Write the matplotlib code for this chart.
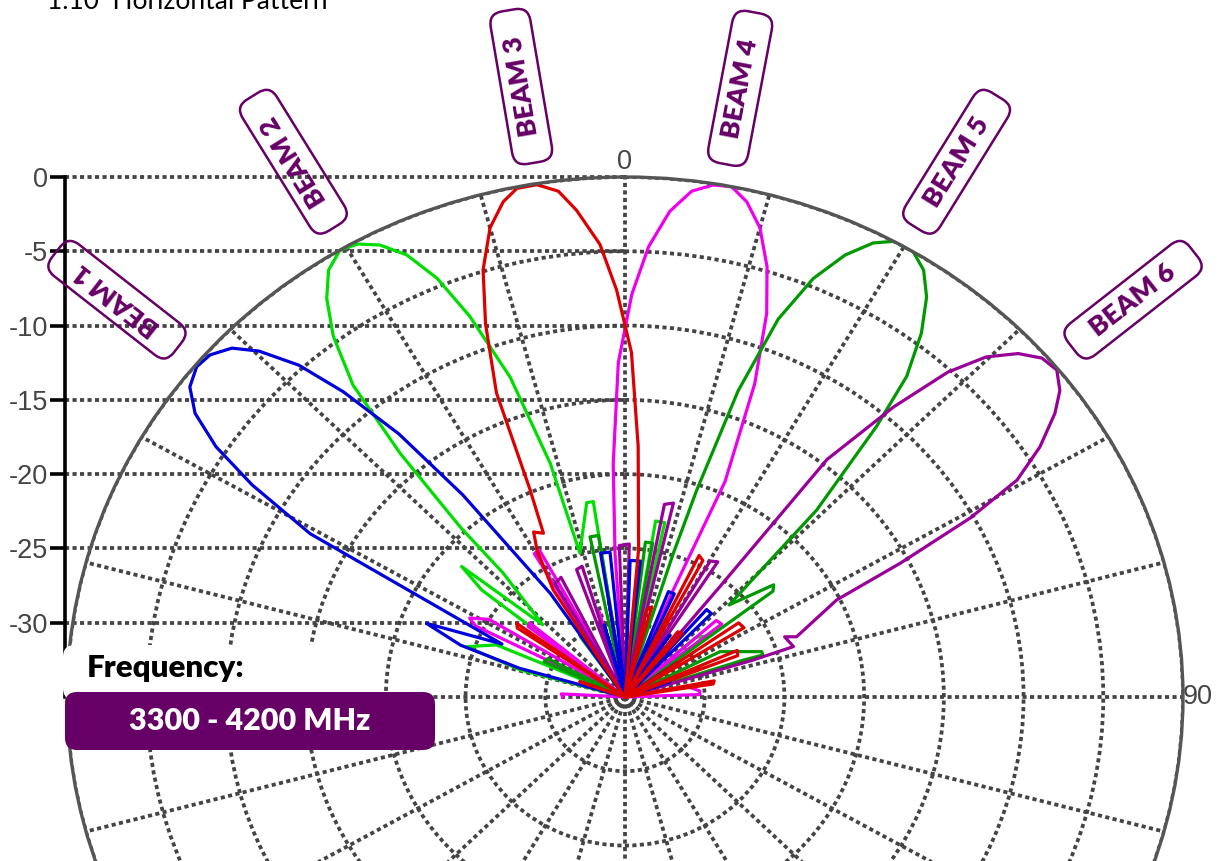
import numpy as np
import matplotlib
matplotlib.use('Agg')
import matplotlib.pyplot as plt
from matplotlib.patches import FancyBboxPatch

plt.rcParams['axes.unicode_minus'] = False

# --- data: angle (deg, clockwise from boresight) and gain (dB) per beam ---
BEAM1_DEG = [-90, -76, -73.7, -71.3, -68.3, -65.2, -60.9, -58.6, -56.7, -54.7, -52.6, -50.4, -48.5,
             -46.4, -44.6, -42.5, -40.7, -38.7, -36.8, -33.9, -31, -22, -15, -12, -9, -5.5, -3,
             2, 6, 9, 15, 18, 21, 24, 28, 34, 38, 41, 44, 48, 55, 60, 70, 80, 90]
BEAM1_DB = [-35, -35, -28.1, -24.1, -21.6, -26.5, -12.4, -7.6, -4.3, -1.96, -0.64, -0.13, -0.25,
            -0.95, -2.3, -4.7, -7.9, -12.3, -18.0, -26.6, -35, -35, -30, -35, -25.2, -25.2, -35,
            -25.8, -25.8, -35, -31, -35, -27.4, -27.4, -35, -30, -35, -27.2, -27.2, -35, -31, -35, -32, -35, -35]

BEAM2_DEG = [-90, -80, -74.5, -71.2, -66.5, -62, -56, -51.3, -49.4, -46.7, -42.5, -42.1, -40.7,
             -39.1, -37.0, -34.9, -32.9, -30.7, -28.75, -26.8, -24.7, -22.7, -20.8, -18.5, -16.6,
             -16.3, -10.4, -8.6, -5, 4, 9.2, 12, 16, 25, 30, 35, 45, 48, 51, 55, 90]
BEAM2_DB = [-35, -35, -28.2, -24.5, -26.2, -35, -35, -23.5, -21.5, -27.9, -23.7, -19.6, -13.4,
            -7.95, -4.6, -2.3, -0.77, 0, -0.22, -0.92, -2.25, -4.45, -7.6, -12.3, -18.6,
            -24.9, -21.7, -21.7, -35, -35, -23, -23, -35, -35, -30, -35, -35, -29, -28.5, -35, -35]

BEAM3_DEG = [-90, -75, -70, -66, -58, -55.5, -53.9, -50, -36, -32, -29.2, -27.3, -24.9, -23.1,
             -21.5, -19.2, -17.2, -15.0, -12.9, -11.2, -9.1, -7.0, -5.3, -2.95, -1.1, 1.0, 2.8,
             4.9, 8, 13, 15.5, 18, 22, 26, 28, 31, 37, 40, 44, 55, 58, 62, 66, 68.5, 72, 79, 81, 85, 90]
BEAM3_DB = [-35, -35, -32, -35, -35, -26.8, -26.6, -35, -35, -26.5, -23.7, -22.5, -22.85, -19.8,
            -13.0, -8.4, -4.9, -2.3, -0.8, -0.1, -0.08, -0.7, -2.1, -4.5, -7.6, -11.8, -18.1,
            -25.0, -35, -29, -28.7, -35, -35, -24.4, -24.6, -35, -29.5, -29.4, -35, -26.3, -26.2,
            -35, -27.3, -27.4, -35, -29.3, -29.4, -35, -35]

BEAM4_DEG = [-90, -87, -84, -66, -63, -61.4, -58.5, -56, -52, -50.2, -47, -33, -30.5, -28.5, -25,
             -19, -16, -13, -8, -3.7, -2.7, -1.07, 0.9, 2.8, 4.9, 7.0, 9.1, 11.0, 12.9, 15.0, 17.1,
             19.0, 21.1, 23.4, 22.8, 27, 35, 40, 48, 51, 55, 70, 80, 85, 88, 90]
BEAM4_DB = [-31.1, -31.0, -35, -35, -24.5, -23.9, -25, -35, -27.3, -27.2, -35, -35, -23.8, -23.7, -35,
            -35, -29, -35, -35, -25.3, -19.3, -12.5, -7.9, -4.65, -2.2, -0.7, -0.1, 0, -0.8, -2.3, -4.7,
            -7.7, -12.4, -19.2, -27.2, -35, -31, -35, -27.3, -27.2, -35, -35, -31, -30.3, -30.3, -35]

BEAM5_DEG = [-90, -70, -65, -62, -60, -40, -34.6, -32, -28, -14, -11.5, -8.7, -6, 4, 7, 9.5, 12, 15,
             17.4, 17.9, 19.0, 20.7, 22.75, 24.9, 27.0, 28.8, 31.1, 33.1, 35.1, 37.2, 39.3, 40.9,
             43.7, 44.6, 46.5, 51, 52.5, 55, 60, 62.9, 70.4, 71.9, 71.5, 75, 90]
BEAM5_DB = [-35, -35, -29.4, -29.5, -35, -35, -30.1, -30.2, -35, -35, -24.0, -24.0, -35, -35, -24.5,
            -24.5, -35, -35, -24.9, -20.4, -13.2, -7.8, -4.45, -2.2, -0.7, 0, 0, -0.7, -2.1, -4.25,
            -7.1, -10.9, -17.6, -21.7, -26, -23.0, -23.3, -35, -35, -28.3, -25.9, -25.9, -27.2, -35, -35]

BEAM6_DEG = [-90, -40, -30, -26.5, -23, -19.5, -17, -13, -9, -6, -2, 1.5, 5, 10.8, 13.1, 16, 27,
             30.3, 32.6, 35, 38.7, 38.5, 38.4, 40.8, 42.8, 44.7, 46.85, 48.9, 50.9, 52.9, 54.7,
             57.1, 59.3, 60.9, 62.45, 63.8, 69.35, 67.97, 72.2, 72.8, 80, 90]
BEAM6_DB = [-35, -35, -26.2, -26.0, -35, -25.9, -25.8, -35, -28.5, -35, -24.8, -24.7, -35, -21.8,
            -21.6, -35, -35, -24.4, -24.2, -35, -25.5, -20.1, -14.6, -9.2, -5.2, -2.8, -1.2, -0.3,
            -0.1, -0.8, -1.96, -4.0, -6.4, -10.2, -15.5, -20.2, -23.5, -24.2, -23.9, -26.6, -35, -35]

BEAM_NAMES = ['BEAM 1', 'BEAM 2', 'BEAM 3', 'BEAM 4', 'BEAM 5', 'BEAM 6']
BEAM_DIRS = [-50, -30, -9, 10, 30, 50]
BEAM_COLORS = ['#0000dd', '#00dd00', '#dd0000', '#ee00ee', '#009900', '#990099']
DB_TICKS = [-30, -25, -20, -15, -10, -5, 0]
FREQ_TEXT = '3300 - 4200 MHz'

W, H = 1228, 861
PURPLE = '#660066'
GRID = dict(color='#444444', linestyle=(0, (1.1, 0.9)), linewidth=2.7)


def px_box(x0, y0, x1, y1):
    return [x0 / W, 1 - y1 / H, (x1 - x0) / W, (y1 - y0) / H]


fig = plt.figure(figsize=(W / 100, H / 100), dpi=100)

# left dB scale with horizontal guide lines
axl = fig.add_axes(px_box(65, 177, 625, 697))
axl.set_xlim(0, 1)
axl.set_ylim(-35, 0)
axl.set_yticks(DB_TICKS)
axl.set_yticklabels([str(t) for t in DB_TICKS], fontfamily='Liberation Sans')
axl.set_xticks([])
axl.patch.set_alpha(0)
for s in ['top', 'right', 'bottom']:
    axl.spines[s].set_visible(False)
axl.spines['left'].set_linewidth(2.6)
axl.tick_params(axis='y', length=11, width=2.6, pad=1, labelsize=19.5, labelcolor='#444444')
axl.yaxis.grid(True, **GRID)
for gl in axl.get_ygridlines():
    gl.set_clip_on(False)

# polar pattern (stretched horizontally, bottom falls off the page)
ax = fig.add_axes(px_box(67, 177, 1183, 1217), projection='polar')
ax.set_aspect('auto')
ax.set_theta_zero_location('N')
ax.set_theta_direction(-1)
ax.set_ylim(-35, 0)
ax.set_yticks(DB_TICKS)
ax.set_yticklabels([])
angles = np.arange(0, 360, 15)
ax.set_xticks(np.deg2rad(angles))
ax.set_xticklabels([str(a) if a in (0, 90) else '' for a in angles], fontfamily='Liberation Sans')
ax.tick_params(axis='x', pad=0, labelsize=19.5, labelcolor='#444444')
ax.grid(True, **GRID)
ax.spines['polar'].set_color('#555555')
ax.spines['polar'].set_linewidth(2.4)
ax.patch.set_facecolor('none')

beams = [(BEAM2_DEG, BEAM2_DB, 1), (BEAM4_DEG, BEAM4_DB, 3), (BEAM5_DEG, BEAM5_DB, 4),
         (BEAM6_DEG, BEAM6_DB, 5), (BEAM1_DEG, BEAM1_DB, 0), (BEAM3_DEG, BEAM3_DB, 2)]
for deg, db, i in beams:
    ax.plot(np.deg2rad(deg), np.clip(db, -35, 0), color=BEAM_COLORS[i], lw=2.3)

# beam tags outside the rim, aligned with each beam direction
rx, ry = 558, 520
for name, d in zip(BEAM_NAMES, BEAM_DIRS):
    t = np.deg2rad(d)
    rot = np.degrees(np.arctan2(np.cos(t) * ry, np.sin(t) * rx))
    ax.text(t, 6.6, '   ' + name + '   ', rotation=rot, rotation_mode='anchor',
            ha='center', va='center', fontsize=19.5, fontweight='heavy', family='Lato',
            color=PURPLE, clip_on=False,
            bbox=dict(boxstyle='round,pad=0.3,rounding_size=0.5', fc='none', ec=PURPLE, lw=1.8))

# frequency badge
fig.add_artist(FancyBboxPatch((0.63, 1.61), 3.17, 0.55, boxstyle='round,pad=0,rounding_size=0.12',
                              transform=fig.dpi_scale_trans, fc='white', ec='none', zorder=5))
fig.add_artist(FancyBboxPatch((0.65, 1.11), 3.70, 0.58, boxstyle='round,pad=0,rounding_size=0.12',
                              transform=fig.dpi_scale_trans, fc=PURPLE, ec='none', zorder=5))
fig.text(87 / W, 1 - 668 / H, 'Frequency:', ha='left', va='center', fontsize=22.5,
         fontweight='heavy', family='Lato', color='black', zorder=6)
fig.text(250 / W, 1 - 721 / H, FREQ_TEXT, ha='center', va='center', fontsize=22,
         fontweight='heavy', family='Lato', color='white', zorder=6)

fig.text(47 / W, 1 - 9 / H, '1.10  Horizontal Pattern', ha='left', va='baseline',
         fontsize=19, family='Lato', color='black')

fig.savefig('out.png', dpi=100)
